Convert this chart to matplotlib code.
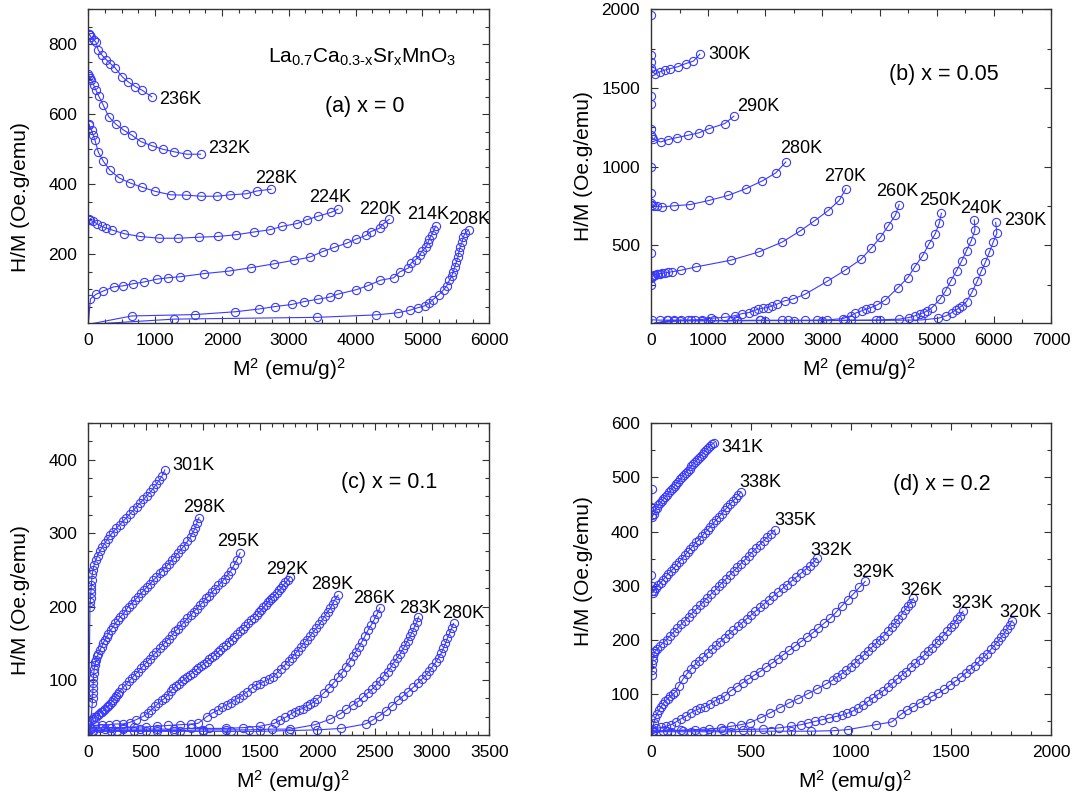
import matplotlib
matplotlib.use("Agg")
import matplotlib.pyplot as plt
from matplotlib.ticker import MultipleLocator

plt.rcParams['font.family'] = ['Liberation Sans', 'DejaVu Sans']
plt.rcParams['mathtext.fontset'] = 'custom'
plt.rcParams['mathtext.rm'] = 'Liberation Sans'
plt.rcParams['mathtext.it'] = 'Liberation Sans:italic'

# ---------------- (a) x = 0 ----------------
temps_a = ['236K', '232K', '228K', '224K', '220K', '214K', '208K']
m2_a = [
    [0, 5, 15, 25, 45, 80, 115, 150, 210, 270, 330, 400, 510, 595, 705, 805, 950],
    [0, 3, 9, 28, 47, 80, 113, 160, 222, 307, 411, 529, 647, 788, 953, 1119, 1284, 1473, 1680],
    [0, 5, 15, 50, 75, 100, 150, 225, 325, 465, 625, 800, 1000, 1235, 1465, 1690, 1925, 2125, 2365, 2525, 2735],
    [0, 5, 25, 75, 125, 200, 265, 350, 535, 775, 1065, 1350, 1660, 1935, 2215, 2485, 2715, 2900, 3125, 3275, 3440, 3635, 3735],
    [0, 33, 118, 222, 378, 519, 670, 835, 1024, 1190, 1378, 1732, 2100, 2440, 2785, 3075, 3315, 3507, 3682, 3872, 4000, 4156, 4228, 4360, 4408, 4502],
    [0, 650, 1600, 2200, 2560, 2800, 3050, 3230, 3440, 3620, 3730, 4010, 4190, 4370, 4570, 4660, 4790, 4830, 4900, 4960, 4990, 5055, 5080, 5105, 5140, 5170, 5200],
    [0, 1285, 3425, 4300, 4630, 4806, 4939, 5033, 5104, 5152, 5247, 5318, 5365, 5403, 5436, 5460, 5483, 5507, 5531, 5545, 5564, 5592, 5611, 5640, 5690],
]
hm_a = [
    [0, 830, 829, 826, 820, 813, 806, 783, 768, 756, 745, 733, 707, 693, 679, 669, 650],
    [0, 715, 710, 705, 698, 684, 670, 651, 627, 593, 572, 555, 541, 522, 510, 500, 493, 486, 486],
    [0, 573, 569, 554, 540, 526, 492, 466, 440, 418, 404, 392, 380, 370, 369, 366, 366, 370, 373, 381, 386],
    [0, 300, 297, 294, 288, 280, 275, 270, 259, 251, 246, 246, 249, 251, 256, 264, 270, 280, 288, 299, 309, 320, 329],
    [0, 73, 86, 95, 107, 110, 116, 121, 129, 133, 136, 145, 152, 162, 173, 183, 192, 208, 220, 232, 243, 254, 265, 275, 286, 300],
    [0, 24, 28, 36, 44, 51, 57, 65, 72, 78, 86, 99, 111, 126, 133, 150, 161, 175, 185, 197, 209, 221, 232, 245, 256, 269, 281],
    [0, 15, 20, 27, 33, 40, 48, 53, 61, 70, 85, 99, 111, 126, 137, 150, 164, 178, 192, 207, 221, 235, 250, 261, 270],
]

# ---------------- (b) x = 0.05 ----------------
temps_b = ['300K', '290K', '280K', '270K', '260K', '250K', '240K', '230K']
m2_b = [
    [0, 0, 0, 0, 5, 20, 70, 155, 240, 340, 465, 610, 740, 855],
    [0, 0, 0, 0, 5, 15, 40, 170, 295, 455, 650, 835, 1020, 1290, 1450],
    [0, 0, 0, 5, 20, 45, 100, 190, 400, 690, 1015, 1350, 1658, 1950, 2183, 2360],
    [0, 0, 0, 5, 15, 30, 50, 75, 100, 130, 160, 200, 250, 300, 370, 520, 780, 1400, 1890, 2300, 2610, 2860, 3095, 3295, 3410],
    [0, 20, 150, 280, 400, 520, 650, 770, 890, 1054, 1300, 1465, 1601, 1711, 1794, 1875, 1958, 2040, 2122, 2204, 2341, 2479, 2698, 3081, 3400, 3673, 3849, 4014, 4150, 4277, 4343],
    [0, 300, 700, 1100, 1500, 1900, 2300, 2700, 3081, 3356, 3493, 3575, 3685, 3767, 3849, 3959, 4096, 4316, 4497, 4617, 4754, 4864, 4973, 5045, 5083],
    [0, 400, 900, 1400, 1900, 2400, 2900, 3400, 3932, 4332, 4508, 4618, 4700, 4771, 4837, 4919, 5056, 5155, 5248, 5347, 5440, 5522, 5605, 5670, 5659],
    [0, 500, 1000, 1500, 2000, 2500, 3000, 3500, 4000, 4726, 5029, 5165, 5264, 5330, 5385, 5440, 5522, 5615, 5713, 5779, 5851, 5922, 5988, 6054, 6032],
]
hm_b = [
    [0, 1965, 1710, 1665, 1630, 1610, 1588, 1603, 1614, 1624, 1635, 1656, 1671, 1716],
    [0, 1450, 1400, 1240, 1200, 1190, 1175, 1157, 1172, 1185, 1200, 1215, 1242, 1274, 1321],
    [0, 1000, 830, 770, 757, 752, 748, 744, 751, 759, 785, 817, 860, 910, 960, 1030],
    [0, 450, 250, 290, 300, 305, 309, 313, 316, 318, 320, 322, 325, 328, 332, 341, 362, 405, 458, 521, 591, 655, 719, 786, 860],
    [0, 26, 24, 24, 24, 24, 25, 26, 28, 36, 42, 52, 66, 72, 83, 94, 100, 104, 115, 125, 147, 157, 189, 270, 342, 410, 480, 550, 623, 691, 759],
    [0, 22, 22, 22, 22, 23, 23, 23, 25, 34, 51, 68, 83, 94, 104, 121, 151, 228, 295, 364, 434, 508, 572, 640, 704],
    [0, 21, 21, 21, 22, 22, 22, 23, 25, 30, 40, 51, 62, 72, 83, 104, 157, 210, 274, 338, 402, 466, 529, 597, 661],
    [0, 20, 20, 20, 21, 21, 21, 22, 22, 25, 36, 51, 72, 87, 100, 115, 142, 200, 274, 334, 391, 455, 519, 578, 646],
]

# ---------------- (c) x = 0.1 ----------------
temps_c = ['301K', '298K', '295K', '292K', '289K', '286K', '283K', '280K']
m2_c = [
    [0, 15, 18, 20, 22, 25, 28, 30, 35, 41, 51, 65, 81, 100, 122, 143, 168, 192, 219, 246, 273, 303, 333, 362, 392, 422, 452, 481, 511, 541, 568, 595, 619, 644, 668],
    [0, 35, 37, 39, 41, 43, 45, 48, 52, 58, 63, 68, 78, 89, 103, 116, 130, 143, 160, 176, 195, 216, 235, 257, 281, 306, 327, 352, 379, 406, 433, 460, 487, 514, 541, 568, 595, 622, 649, 676, 703, 730, 757, 784, 812, 839, 866, 893, 914, 933, 949, 966],
    [0, 27, 40, 54, 67, 81, 95, 108, 122, 135, 149, 162, 176, 189, 203, 216, 230, 243, 257, 270, 298, 325, 352, 379, 406, 433, 460, 487, 514, 541, 568, 595, 622, 649, 676, 703, 730, 757, 784, 812, 839, 866, 893, 920, 947, 974, 1001, 1028, 1055, 1082, 1109, 1136, 1163, 1190, 1217, 1244, 1271, 1298, 1325],
    [0, 10, 60, 120, 180, 240, 300, 360, 420, 487, 520, 550, 582, 612, 640, 669, 695, 720, 742, 767, 791, 815, 839, 863, 887, 911, 936, 960, 984, 1008, 1033, 1057, 1081, 1105, 1130, 1154, 1178, 1202, 1227, 1251, 1275, 1300, 1324, 1348, 1372, 1396, 1420, 1445, 1469, 1489, 1508, 1527, 1547, 1566, 1585, 1605, 1624, 1644, 1663, 1683, 1702, 1721, 1741, 1760],
    [0, 20, 100, 200, 300, 400, 500, 600, 700, 800, 900, 960, 1033, 1085, 1134, 1170, 1207, 1244, 1280, 1316, 1353, 1389, 1425, 1461, 1498, 1535, 1575, 1613, 1649, 1681, 1713, 1748, 1775, 1802, 1830, 1856, 1883, 1910, 1937, 1964, 1991, 2018, 2040, 2064, 2091, 2113, 2135, 2153, 2180],
    [0, 20, 150, 300, 450, 600, 750, 900, 1050, 1200, 1350, 1500, 1627, 1675, 1721, 1765, 1802, 1835, 1870, 1905, 1937, 1970, 2000, 2054, 2100, 2140, 2180, 2216, 2248, 2280, 2307, 2334, 2361, 2388, 2415, 2442, 2469, 2496, 2523, 2545],
    [0, 30, 200, 400, 600, 800, 1000, 1200, 1400, 1600, 1762, 1978, 2113, 2199, 2253, 2307, 2356, 2396, 2437, 2477, 2513, 2545, 2577, 2612, 2639, 2666, 2693, 2720, 2747, 2766, 2788, 2810, 2828, 2847, 2869, 2882],
    [0, 40, 250, 500, 750, 1000, 1250, 1500, 1750, 2000, 2210, 2420, 2480, 2540, 2600, 2650, 2700, 2748, 2793, 2837, 2874, 2910, 2945, 2977, 3004, 3031, 3058, 3080, 3099, 3117, 3134, 3153, 3171, 3188],
]
hm_c = [
    [0, 200, 206, 212, 218, 224, 230, 236, 244, 250, 256, 263, 269, 275, 281, 286, 292, 297, 302, 307, 311, 316, 321, 326, 331, 336, 341, 346, 351, 356, 361, 367, 372, 378, 386],
    [0, 68, 75, 82, 89, 96, 103, 109, 115, 120, 124, 127, 132, 136, 141, 145, 150, 154, 159, 163, 168, 172, 177, 181, 186, 190, 195, 200, 204, 209, 213, 218, 222, 227, 231, 236, 240, 245, 249, 254, 258, 263, 268, 273, 278, 283, 289, 295, 301, 307, 314, 321],
    [0, 45, 47, 49, 50, 52, 54, 56, 57, 59, 61, 63, 65, 67, 70, 72, 75, 78, 81, 84, 89, 93, 98, 102, 107, 111, 116, 120, 125, 129, 134, 138, 143, 147, 152, 156, 161, 166, 170, 175, 179, 184, 188, 193, 197, 202, 206, 211, 215, 220, 224, 229, 233, 238, 243, 249, 256, 264, 273],
    [0, 38, 38, 39, 39, 40, 40, 42, 46, 51, 55, 59, 64, 68, 72, 75, 80, 85, 89, 92, 95, 98, 101, 104, 107, 110, 113, 116, 119, 122, 125, 128, 131, 134, 138, 141, 145, 148, 152, 155, 159, 162, 166, 170, 173, 177, 181, 184, 188, 192, 195, 199, 202, 206, 209, 212, 215, 218, 222, 225, 229, 233, 236, 240],
    [0, 35, 35, 35, 35, 36, 36, 37, 38, 39, 40, 41, 50, 55, 59, 63, 66, 69, 73, 76, 80, 84, 89, 93, 95, 98, 101, 104.5, 110, 115, 120, 126, 130, 135, 140, 145, 150, 155, 160, 165.6, 171, 176, 181.5, 187, 193, 198, 204, 209.5, 215.4],
    [0, 33, 33, 33, 33, 33, 33, 34, 34, 34, 35, 37, 41, 45, 49, 53, 57, 59, 61, 64, 67, 70, 74, 82, 89, 95.5, 103.6, 110, 118, 125, 132, 138.5, 145, 152, 159.7, 168, 174.7, 182.4, 190.5, 198.2],
    [0, 31, 31, 31, 31, 31, 32, 32, 32, 33, 33, 39, 46.6, 53.8, 60.2, 66, 70.6, 76.5, 81.9, 87.3, 93.2, 99.1, 105.4, 111.3, 117.2, 123.5, 129.4, 135.3, 141.6, 147.5, 153.4, 159.7, 165.6, 172.4, 179, 186],
    [0, 30, 30, 30, 30, 30, 30, 30, 31, 32, 34, 40, 45, 51, 58, 65, 72, 78, 84, 90, 95.5, 100.9, 106.3, 112.2, 118.1, 124, 130.3, 136.2, 143, 149.8, 156.6, 163.4, 170.1, 177],
]

# ---------------- (d) x = 0.2 ----------------
temps_d = ['341K', '338K', '335K', '332K', '329K', '326K', '323K', '320K']
m2_d = [
    [0, 3, 2, 4, 6, 14, 22, 30, 37, 45, 53, 62, 71, 81, 90, 99, 109, 118, 127, 137, 146, 155, 165, 174, 183, 193, 202, 211, 221, 230, 239, 249, 258, 267, 277, 286, 296, 306, 316],
    [0, 2, 3, 5, 9, 14, 25, 37, 49, 61, 74, 87, 100, 113, 127, 141, 155, 169, 183, 197, 211, 226, 240, 254, 268, 283, 297, 311, 325, 340, 354, 368, 382, 396, 410, 424, 437, 449],
    [0, 3, 5, 7, 9, 12, 16, 22, 30, 45, 60, 78, 96, 114, 132, 151, 170, 188, 207, 226, 245, 263, 282, 301, 320, 338, 357, 376, 394, 413, 432, 450, 469, 488, 506, 525, 544, 563, 582, 601, 620],
    [0, 14, 22, 30, 40, 50, 60, 71, 84, 96, 109, 121, 140, 160, 180, 200, 220, 241, 262, 283, 304, 325, 346, 368, 390, 412, 434, 456, 478, 500, 522, 545, 567, 590, 612, 635, 658, 681, 704, 727, 750, 773, 796, 813, 829],
    [0, 5, 25, 50, 75, 100, 125, 150, 177, 200, 224, 247, 270, 295, 320, 345, 370, 400, 429, 458, 487, 516, 545, 575, 604, 633, 662, 692, 721, 750, 779, 808, 837, 866, 896, 925, 954, 983, 1012, 1042, 1071],
    [0, 10, 80, 150, 220, 290, 350, 400, 450, 496, 550, 597, 643, 690, 737, 783, 830, 876, 908, 931, 954, 976, 998, 1020, 1041, 1063, 1085, 1105, 1125, 1144, 1164, 1184, 1203, 1222, 1237, 1253, 1268, 1284, 1299, 1312],
    [0, 10, 60, 160, 260, 360, 460, 560, 640, 700, 750, 785, 820, 855, 890, 923, 954, 982, 1009, 1035, 1060, 1085, 1110, 1135, 1160, 1183, 1206, 1230, 1253, 1276, 1299, 1321, 1343, 1365, 1385, 1405, 1424, 1442, 1461, 1480, 1498, 1514, 1529, 1545, 1560],
    [0, 10, 100, 200, 300, 400, 500, 600, 700, 800, 916, 985, 1125, 1203, 1250, 1281, 1312, 1343, 1374, 1405, 1436, 1467, 1495, 1522, 1548, 1573, 1596, 1620, 1641, 1661, 1682, 1700, 1719, 1736, 1752, 1767, 1781, 1794, 1806],
]
hm_d = [
    [0, 478, 445, 430, 427, 433, 439, 444, 448, 452, 456, 460, 464, 468, 472, 476, 480, 484, 488, 492, 496, 500, 504, 508, 512, 516, 520, 524, 528, 532, 536, 540, 543, 547, 551, 554, 558, 561, 564],
    [0, 320, 300, 290, 287, 290, 296, 301, 306, 311, 317, 322, 327, 332, 338, 344, 350, 356, 362, 368, 374, 380, 385, 391, 397, 403, 409, 415, 421, 427, 433, 439, 445, 451, 456, 462, 467, 473],
    [0, 135, 145, 155, 163, 170, 176, 180, 183, 189, 195, 201, 208, 215, 222, 229, 236, 243, 250, 257, 264, 271, 278, 285, 292, 299, 306, 313, 320, 327, 334, 341, 348, 355, 362, 369, 376, 383, 390, 396, 403],
    [0, 48, 57, 63, 71, 77, 83, 88, 92, 97, 100, 104, 116, 128, 138, 147, 155, 162, 169, 176, 183, 190, 197, 204, 211, 218, 225, 232, 239, 246, 253, 260, 267, 274, 281, 288, 295, 302, 309, 316, 323, 330, 337, 344, 351],
    [0, 36, 37, 39, 41, 44, 49, 55, 60, 66, 71, 74, 77, 82, 88, 92, 97, 107, 114, 121, 128, 135, 142, 150, 157, 165, 173, 181, 189, 197, 205, 213, 222, 231, 240, 251, 263, 274, 285, 297, 308],
    [0, 33, 33, 34, 35, 36, 38, 41, 44, 48, 57, 66, 75, 84, 92, 101, 110, 119, 126, 132, 138, 144, 151, 158, 165, 172, 180, 187, 194, 201, 208, 216, 224, 232, 239, 247, 255, 262, 269, 277],
    [0, 32, 32, 33, 33, 34, 35, 36, 38, 41, 44, 47, 50, 53, 56, 59, 61.5, 65, 69, 74, 80, 87, 93, 100, 106, 113, 120, 128, 135, 142, 150, 157, 164, 172, 179, 186, 194, 201, 208, 216, 224, 230, 238, 245, 253],
    [0, 31, 31, 31, 31, 31, 32, 32, 32, 32, 33, 35, 44, 49, 63, 71, 77, 84, 90, 96, 102, 109, 117, 124, 131, 139, 146, 153, 161, 168, 175, 183, 191, 198, 206, 213, 221, 228, 236],
]

blue = '#3a3aff'
xlab = r'M$^{\mathregular{2}}$ (emu/g)$^{\mathregular{2}}$'
ylab = 'H/M (Oe.g/emu)'

fig = plt.figure(figsize=(10.91, 8.0), dpi=100)


def panel(rect, xs, ys, temps, offs, xlim, ylim, xmaj, xmin, ymaj, ymin, ylpos, xlpos):
    ax = fig.add_axes(rect)
    for x, y, t, o in zip(xs, ys, temps, offs):
        ax.plot(x, y, '-', color=blue, lw=0.8, marker='o', ms=5.9, mfc='none',
                mec=blue, mew=0.8, markevery=slice(1, None))
        ax.annotate(t, (x[-1], y[-1]), xytext=o, textcoords='offset pixels',
                    ha='left', va='center', fontsize=13)
    ax.set_xlim(*xlim)
    ax.set_ylim(*ylim)
    ax.set_xticks(xmaj)
    ax.set_yticks(ymaj)
    ax.xaxis.set_minor_locator(MultipleLocator(xmin))
    ax.yaxis.set_minor_locator(MultipleLocator(ymin))
    ax.tick_params(which='both', direction='in', top=True, right=True,
                   labelsize=12.5, width=0.8, color='#333333')
    ax.tick_params(which='major', length=5)
    ax.tick_params(which='minor', length=3)
    ax.tick_params(axis='y', pad=8)
    ax.tick_params(axis='x', pad=7)
    for s in ax.spines.values():
        s.set_linewidth(1.0)
        s.set_color('#333333')
    ax.set_xlabel(xlab, fontsize=15, va='center')
    ax.set_ylabel(ylab, fontsize=15, va='center', ha='center')
    ax.xaxis.set_label_coords(xlpos, -0.147)
    ax.yaxis.set_label_coords(-0.168, ylpos)
    return ax


ax = panel([0.0809, 0.5963, 0.3676, 0.3921], m2_a, hm_a, temps_a,
           [(7, -3), (8, 6), (-16, 11), (-29, 12), (-30, 10), (-29, 11), (-20, 10)],
           (0, 6000), (4, 900), range(0, 6001, 1000), 250, [200, 400, 600, 800], 50, 0.40, 0.5)
ax.text(0.449, 0.847, r'La$_{\mathregular{0.7}}$Ca$_{\mathregular{0.3\text{-}x}}$Sr$_{\mathregular{x}}$MnO$_{\mathregular{3}}$',
        transform=ax.transAxes, fontsize=15, ha='left', va='center')
ax.text(0.69, 0.69, '(a) x = 0', transform=ax.transAxes, fontsize=15.5, ha='center', va='center')

ax = panel([0.5967, 0.5963, 0.3666, 0.3919], m2_b, hm_b, temps_b,
           [(8, 0), (3, 10), (-6, 13), (-22, 12), (-23, 13), (-22, 13), (-14, 11), (8, 2)],
           (0, 7000), (6, 2000), range(0, 7001, 1000), 500, [500, 1000, 1500, 2000], 250, 0.50, 0.52)
ax.text(0.733, 0.794, '(b) x = 0.05', transform=ax.transAxes, fontsize=15.5, ha='center', va='center')

ax = panel([0.0809, 0.08125, 0.3676, 0.39], m2_c, hm_c, temps_c,
           [(8, 4), (-16, 10), (-23, 11), (-24, 8), (-27, 11), (-27, 9), (-19, 8), (-11, 10)],
           (0, 3500), (25, 450), range(0, 3501, 500), 100, [100, 200, 300, 400], 25, 0.433, 0.51)
ax.text(0.751, 0.808, '(c) x = 0.1', transform=ax.transAxes, fontsize=15.5, ha='center', va='center')

ax = panel([0.5967, 0.08125, 0.3666, 0.39], m2_d, hm_d, temps_d,
           [(7, -5), (-1, 9), (-1, 9), (-6, 8), (-13, 9), (-13, 8), (-12, 8), (-13, 8)],
           (0, 2000), (25, 600), range(0, 2001, 500), 100, [100, 200, 300, 400, 500, 600], 50, 0.526, 0.51)
ax.text(0.727, 0.804, '(d) x = 0.2', transform=ax.transAxes, fontsize=15.5, ha='center', va='center')

fig.savefig('out.png', dpi=100)
